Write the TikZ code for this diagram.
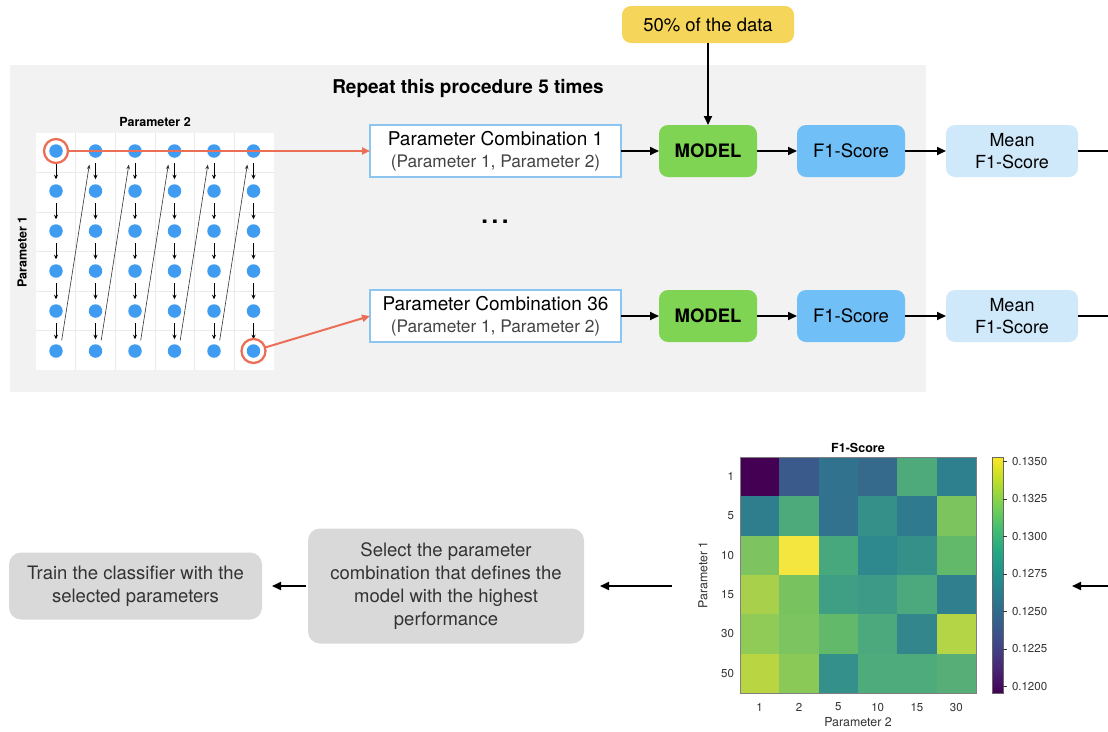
\documentclass[tikz,border=0pt]{standalone}
\usepackage{fontspec}
\setmainfont{TeX Gyre Heros}
\usetikzlibrary{arrows.meta,calc}
\definecolor{bgGray}{HTML}{F2F2F2}
\definecolor{yel}{HTML}{F6D65A}
\definecolor{modelGreen}{HTML}{80D454}
\definecolor{fBlue}{HTML}{70BFF6}
\definecolor{meanBlue}{HTML}{CFE9FB}
\definecolor{comboBorder}{HTML}{8CC6F0}
\definecolor{boxGray}{HTML}{D9D9D9}
\definecolor{redc}{HTML}{EB6F57}
\definecolor{dotBlue}{HTML}{3F9CF1}
\definecolor{gridc}{HTML}{EAEAEA}
\definecolor{labc}{HTML}{333333}
\definecolor{subc}{HTML}{444444}
% heatmap colours
\definecolor{hm11}{HTML}{440154}\definecolor{hm12}{HTML}{3A5A8B}\definecolor{hm13}{HTML}{31738E}\definecolor{hm14}{HTML}{366A8D}\definecolor{hm15}{HTML}{4FAA7B}\definecolor{hm16}{HTML}{2E808E}
\definecolor{hm21}{HTML}{2E7E8E}\definecolor{hm22}{HTML}{4DAA7B}\definecolor{hm23}{HTML}{32728E}\definecolor{hm24}{HTML}{36908A}\definecolor{hm25}{HTML}{2F7A8E}\definecolor{hm26}{HTML}{7CC55E}
\definecolor{hm31}{HTML}{7DC460}\definecolor{hm32}{HTML}{F5E53F}\definecolor{hm33}{HTML}{48A87D}\definecolor{hm34}{HTML}{2D898D}\definecolor{hm35}{HTML}{36908A}\definecolor{hm36}{HTML}{62B96A}
\definecolor{hm41}{HTML}{A9D04B}\definecolor{hm42}{HTML}{78C360}\definecolor{hm43}{HTML}{3F9F85}\definecolor{hm44}{HTML}{3C9A87}\definecolor{hm45}{HTML}{4BA97D}\definecolor{hm46}{HTML}{2F7F8E}
\definecolor{hm51}{HTML}{8FCB56}\definecolor{hm52}{HTML}{7BC45F}\definecolor{hm53}{HTML}{62B96A}\definecolor{hm54}{HTML}{4BA97D}\definecolor{hm55}{HTML}{34868D}\definecolor{hm56}{HTML}{B4D545}
\definecolor{hm61}{HTML}{BAD542}\definecolor{hm62}{HTML}{8AC957}\definecolor{hm63}{HTML}{34908A}\definecolor{hm64}{HTML}{4EAB7C}\definecolor{hm65}{HTML}{4EAB7C}\definecolor{hm66}{HTML}{57AF77}
% viridis
\definecolor{vir0}{HTML}{440154}\definecolor{vir1}{HTML}{482475}\definecolor{vir2}{HTML}{414487}\definecolor{vir3}{HTML}{355F8D}\definecolor{vir4}{HTML}{2A788E}\definecolor{vir5}{HTML}{21918C}\definecolor{vir6}{HTML}{22A884}\definecolor{vir7}{HTML}{44BF70}\definecolor{vir8}{HTML}{7AD151}\definecolor{vir9}{HTML}{BDDF26}\definecolor{vir10}{HTML}{FDE725}
\pgfdeclareverticalshading{viridisbar}{100bp}{color(0bp)=(vir0); color(25bp)=(vir0); color(30bp)=(vir1); color(35bp)=(vir2); color(40bp)=(vir3); color(45bp)=(vir4); color(50bp)=(vir5); color(55bp)=(vir6); color(60bp)=(vir7); color(65bp)=(vir8); color(70bp)=(vir9); color(75bp)=(vir10); color(100bp)=(vir10)}
\begin{document}
\begin{tikzpicture}[x=1pt,y=-1pt,
  every node/.style={inner sep=0pt, outer sep=0pt},
  arr/.style={line width=1.8pt, -{Triangle[length=9pt,width=8pt]}},
  flat/.style={line width=1.8pt},
  rbox/.style={rounded corners=9pt, align=center, minimum height=52pt, font=\fontsize{18.5}{22}\selectfont},
  combo/.style={draw=comboBorder, line width=1.2pt, fill=white, minimum width=251pt, minimum height=52pt, align=center, font=\fontsize{19}{21.5}\selectfont},
  graybox/.style={rounded corners=12pt, fill=boxGray, align=center, text=labc, font=\fontsize{18.5}{23}\selectfont},
  dot/.style={circle, fill=dotBlue, minimum size=13.5pt},
  ring/.style={circle, draw=redc, line width=2.3pt, minimum size=24pt},
  redarr/.style={draw=redc, line width=2pt, -{Triangle[length=8pt,width=7pt]}},
  darr/.style={line width=0.8pt, -{Stealth[length=4.5pt,width=4pt]}, shorten <=5pt, shorten >=5pt},
  diag/.style={line width=0.6pt, draw=labc, -{Stealth[length=4.5pt,width=3.5pt]}, shorten <=6pt, shorten >=9pt},
  ticklab/.style={font=\fontsize{11.5}{13}\selectfont, text=labc}
]
\fill[white] (0,0) rectangle (1108,731);
\useasboundingbox (0,0) rectangle (1108,731);
\fill[bgGray] (10,65) rectangle (926,392);

\node[font=\bfseries\fontsize{19}{22}\selectfont] (title) at (468,88) {Repeat this procedure 5 times};

% data node
\node[rbox, fill=yel, minimum width=172pt, minimum height=37pt] (data) at (708,24.5) {50\% of the data};

% row 1
\node[combo] (combo1) at (495.5,151) {Parameter Combination 1\\{\fontsize{17.3}{21.5}\selectfont\color{subc}(Parameter 1, Parameter 2)}};
\node[rbox, fill=modelGreen, minimum width=98pt, font=\bfseries\fontsize{18.5}{22}\selectfont] (model1) at (708,151) {MODEL};
\node[rbox, fill=fBlue, minimum width=108pt] (f1a) at (851,151) {F1-Score};
\node[rbox, fill=meanBlue, minimum width=132pt, font=\fontsize{18}{22}\selectfont] (mean1) at (1012,151) {Mean\\F1-Score};
\coordinate (out1) at (1108,151);

% row 2
\node[combo] (combo36) at (495.5,316) {Parameter Combination 36\\{\fontsize{17.3}{21.5}\selectfont\color{subc}(Parameter 1, Parameter 2)}};
\node[rbox, fill=modelGreen, minimum width=98pt, font=\bfseries\fontsize{18.5}{22}\selectfont] (model2) at (708,316) {MODEL};
\node[rbox, fill=fBlue, minimum width=108pt] (f1b) at (851,316) {F1-Score};
\node[rbox, fill=meanBlue, minimum width=132pt, font=\fontsize{18}{22}\selectfont] (mean2) at (1012,316) {Mean\\F1-Score};
\coordinate (out2) at (1108,316);

\node[font=\bfseries\fontsize{24}{24}\selectfont] (ell) at (495,222) {.\hspace{3.5pt}.\hspace{3.5pt}.};

\draw[arr] (data.south) -- (model1.north);
\draw[arr] (combo1.east) -- (model1.west);
\draw[arr] (model1.east) -- (f1a.west);
\draw[arr] (f1a.east) -- (mean1.west);
\draw[flat] (mean1.east) -- (out1);
\draw[arr] (combo36.east) -- (model2.west);
\draw[arr] (model2.east) -- (f1b.west);
\draw[arr] (f1b.east) -- (mean2.west);
\draw[flat] (mean2.east) -- (out2);

% grid
\fill[white] (36,133) rectangle (274,370);
\foreach \k in {1,...,5} {
  \draw[gridc, line width=0.7pt] ({36+39.67*\k},133) -- ++(0,237);
  \draw[gridc, line width=0.7pt] (36,{133+39.5*\k}) -- ++(238,0);
}
\node[font=\bfseries\fontsize{12.5}{14}\selectfont] (p2lab) at (155,122) {Parameter 2};
\node[font=\bfseries\fontsize{12.5}{14}\selectfont, rotate=90] (p1lab) at (22,252) {Parameter 1};

\foreach \i in {1,...,6} {
  \foreach \j in {1,...,6} {
    \node[dot] (d-\i-\j) at ({56+39.5*(\j-1)},{151+40*(\i-1)}) {};
  }
}
\foreach \i in {1,...,5} {
  \pgfmathtruncatemacro{\k}{\i+1}
  \foreach \j in {1,...,6} {
    \draw[darr] (d-\i-\j) -- (d-\k-\j);
  }
}
\foreach \j in {1,...,5} {
  \pgfmathtruncatemacro{\k}{\j+1}
  \draw[diag] (d-6-\j.north east) -- (d-1-\k.south west);
}
\node[ring] (rc1) at (d-1-1) {};
\node[ring] (rc2) at (d-6-6) {};
\draw[redarr] (rc1.east) -- (combo1.west);
\draw[redarr] (rc2) -- (combo36.west);

% bottom boxes
\node[graybox, minimum width=276pt, minimum height=115pt] (sel) at (446,586) {Select the parameter\\combination that defines the\\model with the highest\\performance};
\node[graybox, minimum width=253pt, minimum height=67pt] (train) at (135.5,586) {Train the classifier with the\\selected parameters};

% heatmap
\foreach \i in {1,...,6} {
  \foreach \j in {1,...,6} {
    \fill[fill=hm\i\j] ({740+39.33*(\j-1)},{457+39.33*(\i-1)}) rectangle ++(39.5,39.5);
  }
}
\draw[draw=gray, line width=0.6pt] (740,457) rectangle (976,693);
\node[font=\bfseries\fontsize{12.5}{14}\selectfont] (hmtitle) at (858,448) {F1-Score};
\foreach \v [count=\i] in {1,5,10,15,30,50} {
  \node[ticklab, anchor=east] (yl\i) at (734,{457+39.33*(\i-0.5)}) {\v};
}
\foreach \v [count=\j] in {1,2,5,10,15,30} {
  \node[ticklab] (xl\j) at ({740+39.33*(\j-0.5)},707) {\v};
}
\node[font=\fontsize{12.4}{14}\selectfont, text=labc] (hmx) at (858,722) {Parameter 2};
\node[font=\fontsize{12.4}{14}\selectfont, text=labc, rotate=90] (hmy) at (703,575) {Parameter 1};
\shade[shading=viridisbar] (992,457) rectangle (1003,693);
\draw[draw=gray!80!black, line width=0.6pt] (992,457) rectangle (1003,693);
\foreach \t [count=\n from 0] in {0.1350,0.1325,0.1300,0.1275,0.1250,0.1225,0.1200} {
  \draw[labc, line width=0.6pt] (1003,{461.5+37.5*\n}) -- ++(4,0);
  \node[ticklab, anchor=west] (cb\n) at (1012,{461.5+37.5*\n}) {\t};
}
\node[minimum width=360pt, minimum height=290pt] (hm) at (876,586) {};
\coordinate (inR) at (1108,586);

\draw[arr, shorten >=16pt] (inR) -- (hm.east);
\draw[arr, shorten <=24pt, shorten >=16pt] (hm.west) -- (sel.east);
\draw[arr, shorten <=2pt, shorten >=10pt] (sel.west) -- (train.east);
\end{tikzpicture}
\end{document}
